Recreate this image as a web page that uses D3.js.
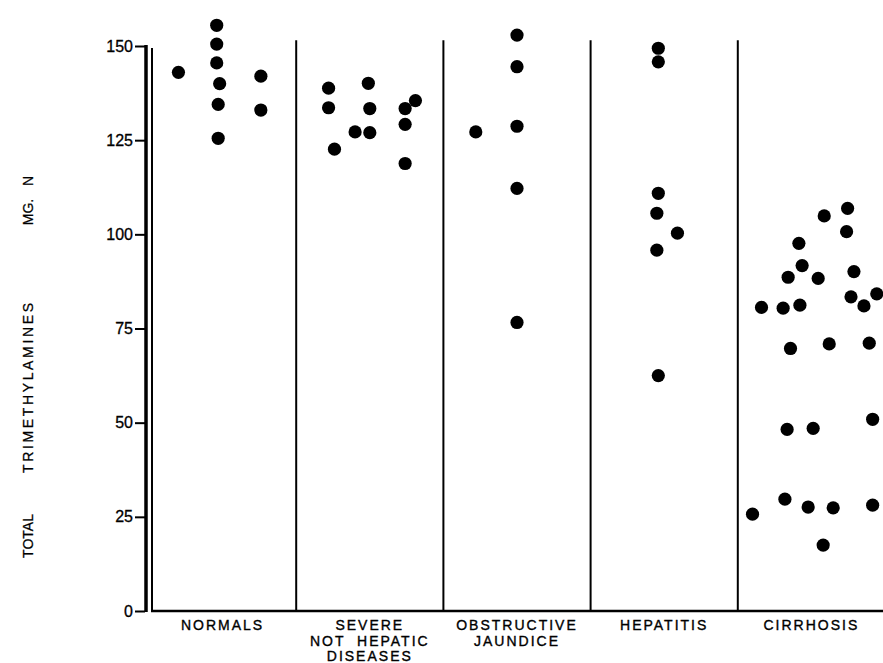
<!DOCTYPE html>
<html>
<head>
<meta charset="utf-8">
<script src="https://cdnjs.cloudflare.com/ajax/libs/d3/7.8.5/d3.min.js"></script>
<style>
  body { margin: 0; background: #fff; }
  text { font-family: "Liberation Sans", Arial, sans-serif; fill: #000; }
</style>
</head>
<body>
<div class="chart"></div>
<script>
// groups along the bottom
var categories = ["NORMALS", "SEVERE\nNOT  HEPATIC\nDISEASES", "OBSTRUCTIVE\nJAUNDICE", "HEPATITIS", "CIRRHOSIS"];

// each dot: place across its column (0..1) and value in mg N
var normalsPos = [0.20, 0.46, 0.46, 0.46, 0.48, 0.47, 0.47, 0.76, 0.76];
var normalsVal = [143, 155.5, 150.5, 145.5, 140, 134.5, 125.5, 142, 133];

var severePos = [0.22, 0.22, 0.26, 0.40, 0.49, 0.50, 0.50, 0.74, 0.74, 0.74, 0.81];
var severeVal = [138.8, 133.6, 122.6, 127.2, 140.1, 133.4, 127, 133.4, 129.2, 118.8, 135.5];

var obstructivePos = [0.22, 0.50, 0.50, 0.50, 0.50, 0.50];
var obstructiveVal = [127.2, 152.9, 144.5, 128.7, 112.2, 76.6];

var hepatitisPos = [0.46, 0.46, 0.46, 0.45, 0.59, 0.45, 0.46];
var hepatitisVal = [149.4, 145.8, 110.9, 105.6, 100.3, 95.8, 62.5];

var cirrhosisPos = [0.587, 0.746, 0.739, 0.415, 0.437, 0.342, 0.546, 0.789, 0.769, 0.857, 0.944,
                    0.161, 0.308, 0.422, 0.358, 0.621, 0.893, 0.335, 0.512, 0.916,
                    0.100, 0.320, 0.478, 0.648, 0.916, 0.580];
var cirrhosisVal = [104.9, 106.9, 100.7, 97.6, 91.7, 88.6, 88.3, 90.1, 83.4, 81.0, 84.2,
                    80.6, 80.4, 81.2, 69.7, 70.9, 71.1, 48.2, 48.5, 50.9,
                    25.7, 29.7, 27.6, 27.4, 28.1, 17.5];

var yTicks = [0, 25, 50, 75, 100, 125, 150];

var width = 883, height = 663;

var svg = d3.select(".chart").append("svg")
    .attr("width", width)
    .attr("height", height);

var x = d3.scaleLinear().domain([0, categories.length]).range([149, 885]);
var y = d3.scaleLinear().domain([0, 150]).range([611, 46]);

// build point list from the arrays
var groups = [
    [normalsPos, normalsVal],
    [severePos, severeVal],
    [obstructivePos, obstructiveVal],
    [hepatitisPos, hepatitisVal],
    [cirrhosisPos, cirrhosisVal]
];
var points = [];
groups.forEach(function(g, i) {
    g[1].forEach(function(v, j) {
        points.push({ u: i + g[0][j], v: v });
    });
});

// y axis, drawn as a double line like the original
var yAxis = d3.axisLeft(y)
    .tickValues(yTicks)
    .tickSize(10)
    .tickPadding(2)
    .tickFormat(d3.format("d"));

var ax = svg.append("g")
    .attr("transform", "translate(145,0)")
    .call(yAxis);
ax.select(".domain").remove();
ax.selectAll(".tick line").attr("stroke", "#000").attr("stroke-width", 2);
ax.selectAll(".tick text")
    .style("font-size", "16px")
    .attr("fill", "#000")
    .attr("stroke", "#000")
    .attr("stroke-width", 0.3);

svg.append("line")
    .attr("x1", 146).attr("x2", 146)
    .attr("y1", y(150) - 1).attr("y2", y(0) + 1)
    .attr("stroke", "#000").attr("stroke-width", 3.5);
svg.append("line")
    .attr("x1", 152).attr("x2", 152)
    .attr("y1", y(149.5)).attr("y2", y(0))
    .attr("stroke", "#000").attr("stroke-width", 2);

// baseline
svg.append("line")
    .attr("x1", 151).attr("x2", width)
    .attr("y1", y(0)).attr("y2", y(0))
    .attr("stroke", "#000").attr("stroke-width", 2.5);

// column dividers
svg.selectAll(".divider")
    .data(d3.range(1, categories.length))
    .enter().append("line")
    .attr("class", "divider")
    .attr("x1", function(d) { return x(d); })
    .attr("x2", function(d) { return x(d); })
    .attr("y1", y(151.5))
    .attr("y2", y(0))
    .attr("stroke", "#000")
    .attr("stroke-width", 2);

// category labels
var labels = svg.selectAll(".cat")
    .data(categories)
    .enter().append("text")
    .attr("class", "cat")
    .attr("text-anchor", "middle")
    .attr("y", 630)
    .style("font-size", "14px")
    .style("letter-spacing", "2px")
    .style("white-space", "pre")
    .attr("stroke", "#000")
    .attr("stroke-width", 0.35);

labels.each(function(d, i) {
    var t = d3.select(this);
    d.split("\n").forEach(function(line, k) {
        t.append("tspan")
            .attr("x", x(i + 0.5))
            .attr("dy", k === 0 ? 0 : 15.5)
            .text(line);
    });
});

// dots
svg.selectAll(".dot")
    .data(points)
    .enter().append("circle")
    .attr("class", "dot")
    .attr("cx", function(d) { return x(d.u); })
    .attr("cy", function(d) { return y(d.v); })
    .attr("r", 6.6)
    .attr("fill", "#000");

// y title, words spread along the axis
var titleWords = [
    { t: "TOTAL", c: 536 },
    { t: "TRIMETHYLAMINES", c: 388, len: 170 },
    { t: "MG.", c: 212 },
    { t: "N", c: 181 }
];
titleWords.forEach(function(w) {
    var el = svg.append("text")
        .attr("transform", "translate(33," + w.c + ") rotate(-90)")
        .attr("text-anchor", "middle")
        .style("font-size", "14px")
        .attr("stroke", "#000")
        .attr("stroke-width", 0.25)
        .text(w.t);
    if (w.len) el.attr("textLength", w.len).attr("lengthAdjust", "spacing");
});
</script>
</body>
</html>
